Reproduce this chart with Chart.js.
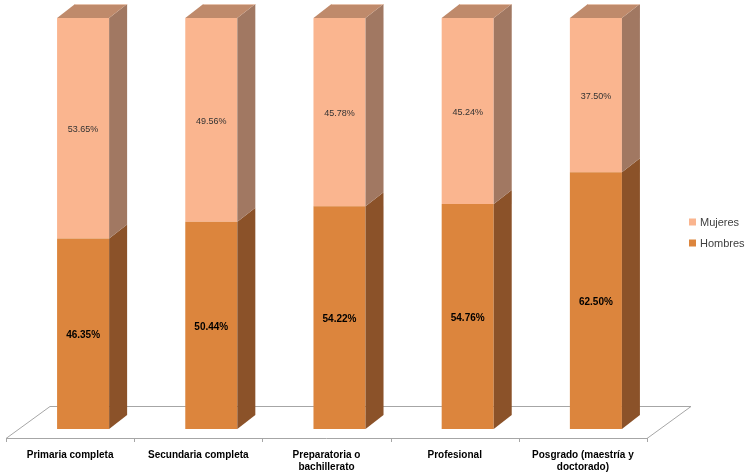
<!DOCTYPE html>
<html>
<head>
<meta charset="utf-8">
<script src="https://cdn.jsdelivr.net/npm/chart.js@4/dist/chart.umd.min.js"></script>
<style>
html,body{margin:0;padding:0;background:#fff;}
canvas{display:block;}
</style>
</head>
<body>
<canvas id="c" width="749" height="475"></canvas>
<script>
const categories = ['Primaria completa', 'Secundaria completa', ['Preparatoria o', 'bachillerato'], 'Profesional', ['Posgrado (maestría y', 'doctorado)']];
const hombres = [46.35, 50.44, 54.22, 54.76, 62.50];
const mujeres = [53.65, 49.56, 45.78, 45.24, 37.50];
const seriesNames = ['Hombres', 'Mujeres'];

const DX = 18, DY = 14;            // bar depth
const FX = 44, FY = 32;            // floor depth
const FLOOR_SHIFT_X = 13, FLOOR_SHIFT_Y = 9;
const LABEL_FONT = '"Liberation Sans", Arial, sans-serif';

const faces = [
  {front: '#DC853D', side: '#8B5229', top: '#A86A38'},
  {front: '#FAB58F', side: '#A17862', top: '#BF8A6B'}
];

const floorPlugin = {
  id: 'floor3d',
  beforeDatasetsDraw(chart) {
    const {ctx, chartArea: a, scales: {x}} = chart;
    const fl = a.left - FLOOR_SHIFT_X, fr = a.right - FLOOR_SHIFT_X, fy = a.bottom + FLOOR_SHIFT_Y;
    ctx.save();
    ctx.strokeStyle = '#A6A6A6';
    ctx.lineWidth = 1;
    ctx.beginPath();
    ctx.moveTo(fl, fy + 0.5);
    ctx.lineTo(fl + FX, fy - FY + 0.5);
    ctx.lineTo(fr + FX, fy - FY + 0.5);
    ctx.lineTo(fr, fy + 0.5);
    ctx.closePath();
    ctx.stroke();
    const n = x.ticks.length;
    const step = (x.getPixelForValue(n - 1) - x.getPixelForValue(0)) / (n - 1);
    for (let i = 0; i <= n; i++) {
      const px = Math.round(x.getPixelForValue(0) - step / 2 + i * step - FLOOR_SHIFT_X) + 0.5;
      ctx.beginPath();
      ctx.moveTo(px, fy);
      ctx.lineTo(px, fy + 4);
      ctx.stroke();
    }
    ctx.restore();
  },
  afterDatasetsDraw(chart) {
    const {ctx} = chart;
    const nd = chart.data.datasets.length;
    ctx.save();
    chart.data.datasets.forEach((ds, di) => {
      const meta = chart.getDatasetMeta(di);
      meta.data.forEach((el, i) => {
        const w = el.width;
        const l = el.x - w / 2, r = el.x + w / 2;
        const t = Math.min(el.y, el.base), b = Math.max(el.y, el.base);
        ctx.fillStyle = faces[di].side;
        ctx.beginPath();
        ctx.moveTo(r, t); ctx.lineTo(r + DX, t - DY); ctx.lineTo(r + DX, b - DY); ctx.lineTo(r, b);
        ctx.closePath(); ctx.fill();
        if (di === nd - 1) {
          ctx.fillStyle = faces[di].top;
          ctx.beginPath();
          ctx.moveTo(l, t); ctx.lineTo(l + DX, t - DY); ctx.lineTo(r + DX, t - DY); ctx.lineTo(r, t);
          ctx.closePath(); ctx.fill();
          ctx.strokeStyle = '#E6C2AC';
          ctx.lineWidth = 1;
          ctx.beginPath();
          ctx.moveTo(l + DX, t - DY + 0.5); ctx.lineTo(r + DX, t - DY + 0.5);
          ctx.stroke();
        }
        // value label
        const v = ds.data[i];
        ctx.textAlign = 'center';
        ctx.textBaseline = 'middle';
        if (di === 0) {
          ctx.font = 'bold 10px "Liberation Sans", Arial, sans-serif';
          ctx.fillStyle = '#000';
        } else {
          ctx.font = '9px "Liberation Sans", Arial, sans-serif';
          ctx.fillStyle = '#333';
        }
        ctx.fillText(v.toFixed(2) + '%', el.x, (t + b) / 2 + 1.5);
      });
    });
    ctx.restore();
  },
  afterDraw(chart) {
    const {ctx} = chart;
    ctx.save();
    const items = [1, 0];
    const ys = [222, 243];
    ctx.font = '11px "Liberation Sans", Arial, sans-serif';
    ctx.textBaseline = 'middle';
    ctx.textAlign = 'left';
    items.forEach((di, k) => {
      const ds = chart.data.datasets[di];
      ctx.fillStyle = ds.backgroundColor;
      ctx.fillRect(689, ys[k] - 3.5, 7, 7);
      ctx.fillStyle = '#404040';
      ctx.fillText(ds.label, 700, ys[k] + 0.5);
    });
    ctx.restore();
  }
};

new Chart(document.getElementById('c'), {
  type: 'bar',
  data: {
    labels: categories,
    datasets: [
      {label: seriesNames[0], data: hombres, backgroundColor: faces[0].front, barPercentage: 0.406, categoryPercentage: 1},
      {label: seriesNames[1], data: mujeres, backgroundColor: faces[1].front, barPercentage: 0.406, categoryPercentage: 1}
    ]
  },
  options: {
    responsive: false,
    animation: false,
    devicePixelRatio: 1,
    layout: {padding: {left: 19, right: 89, top: 18, bottom: 0}},
    plugins: {legend: {display: false}, tooltip: {enabled: false}},
    scales: {
      x: {
        stacked: true,
        grid: {display: false, drawTicks: false},
        border: {display: false},
        ticks: {
          color: '#000',
          font: {family: LABEL_FONT, size: 10, weight: 'bold', lineHeight: 1.2},
          padding: 20,
          labelOffset: -FLOOR_SHIFT_X,
          maxRotation: 0,
          autoSkip: false
        },
        afterFit(s) { s.height = 46; }
      },
      y: {
        stacked: true,
        display: false,
        min: 0,
        max: 100
      }
    }
  },
  plugins: [floorPlugin]
});
</script>
</body>
</html>
